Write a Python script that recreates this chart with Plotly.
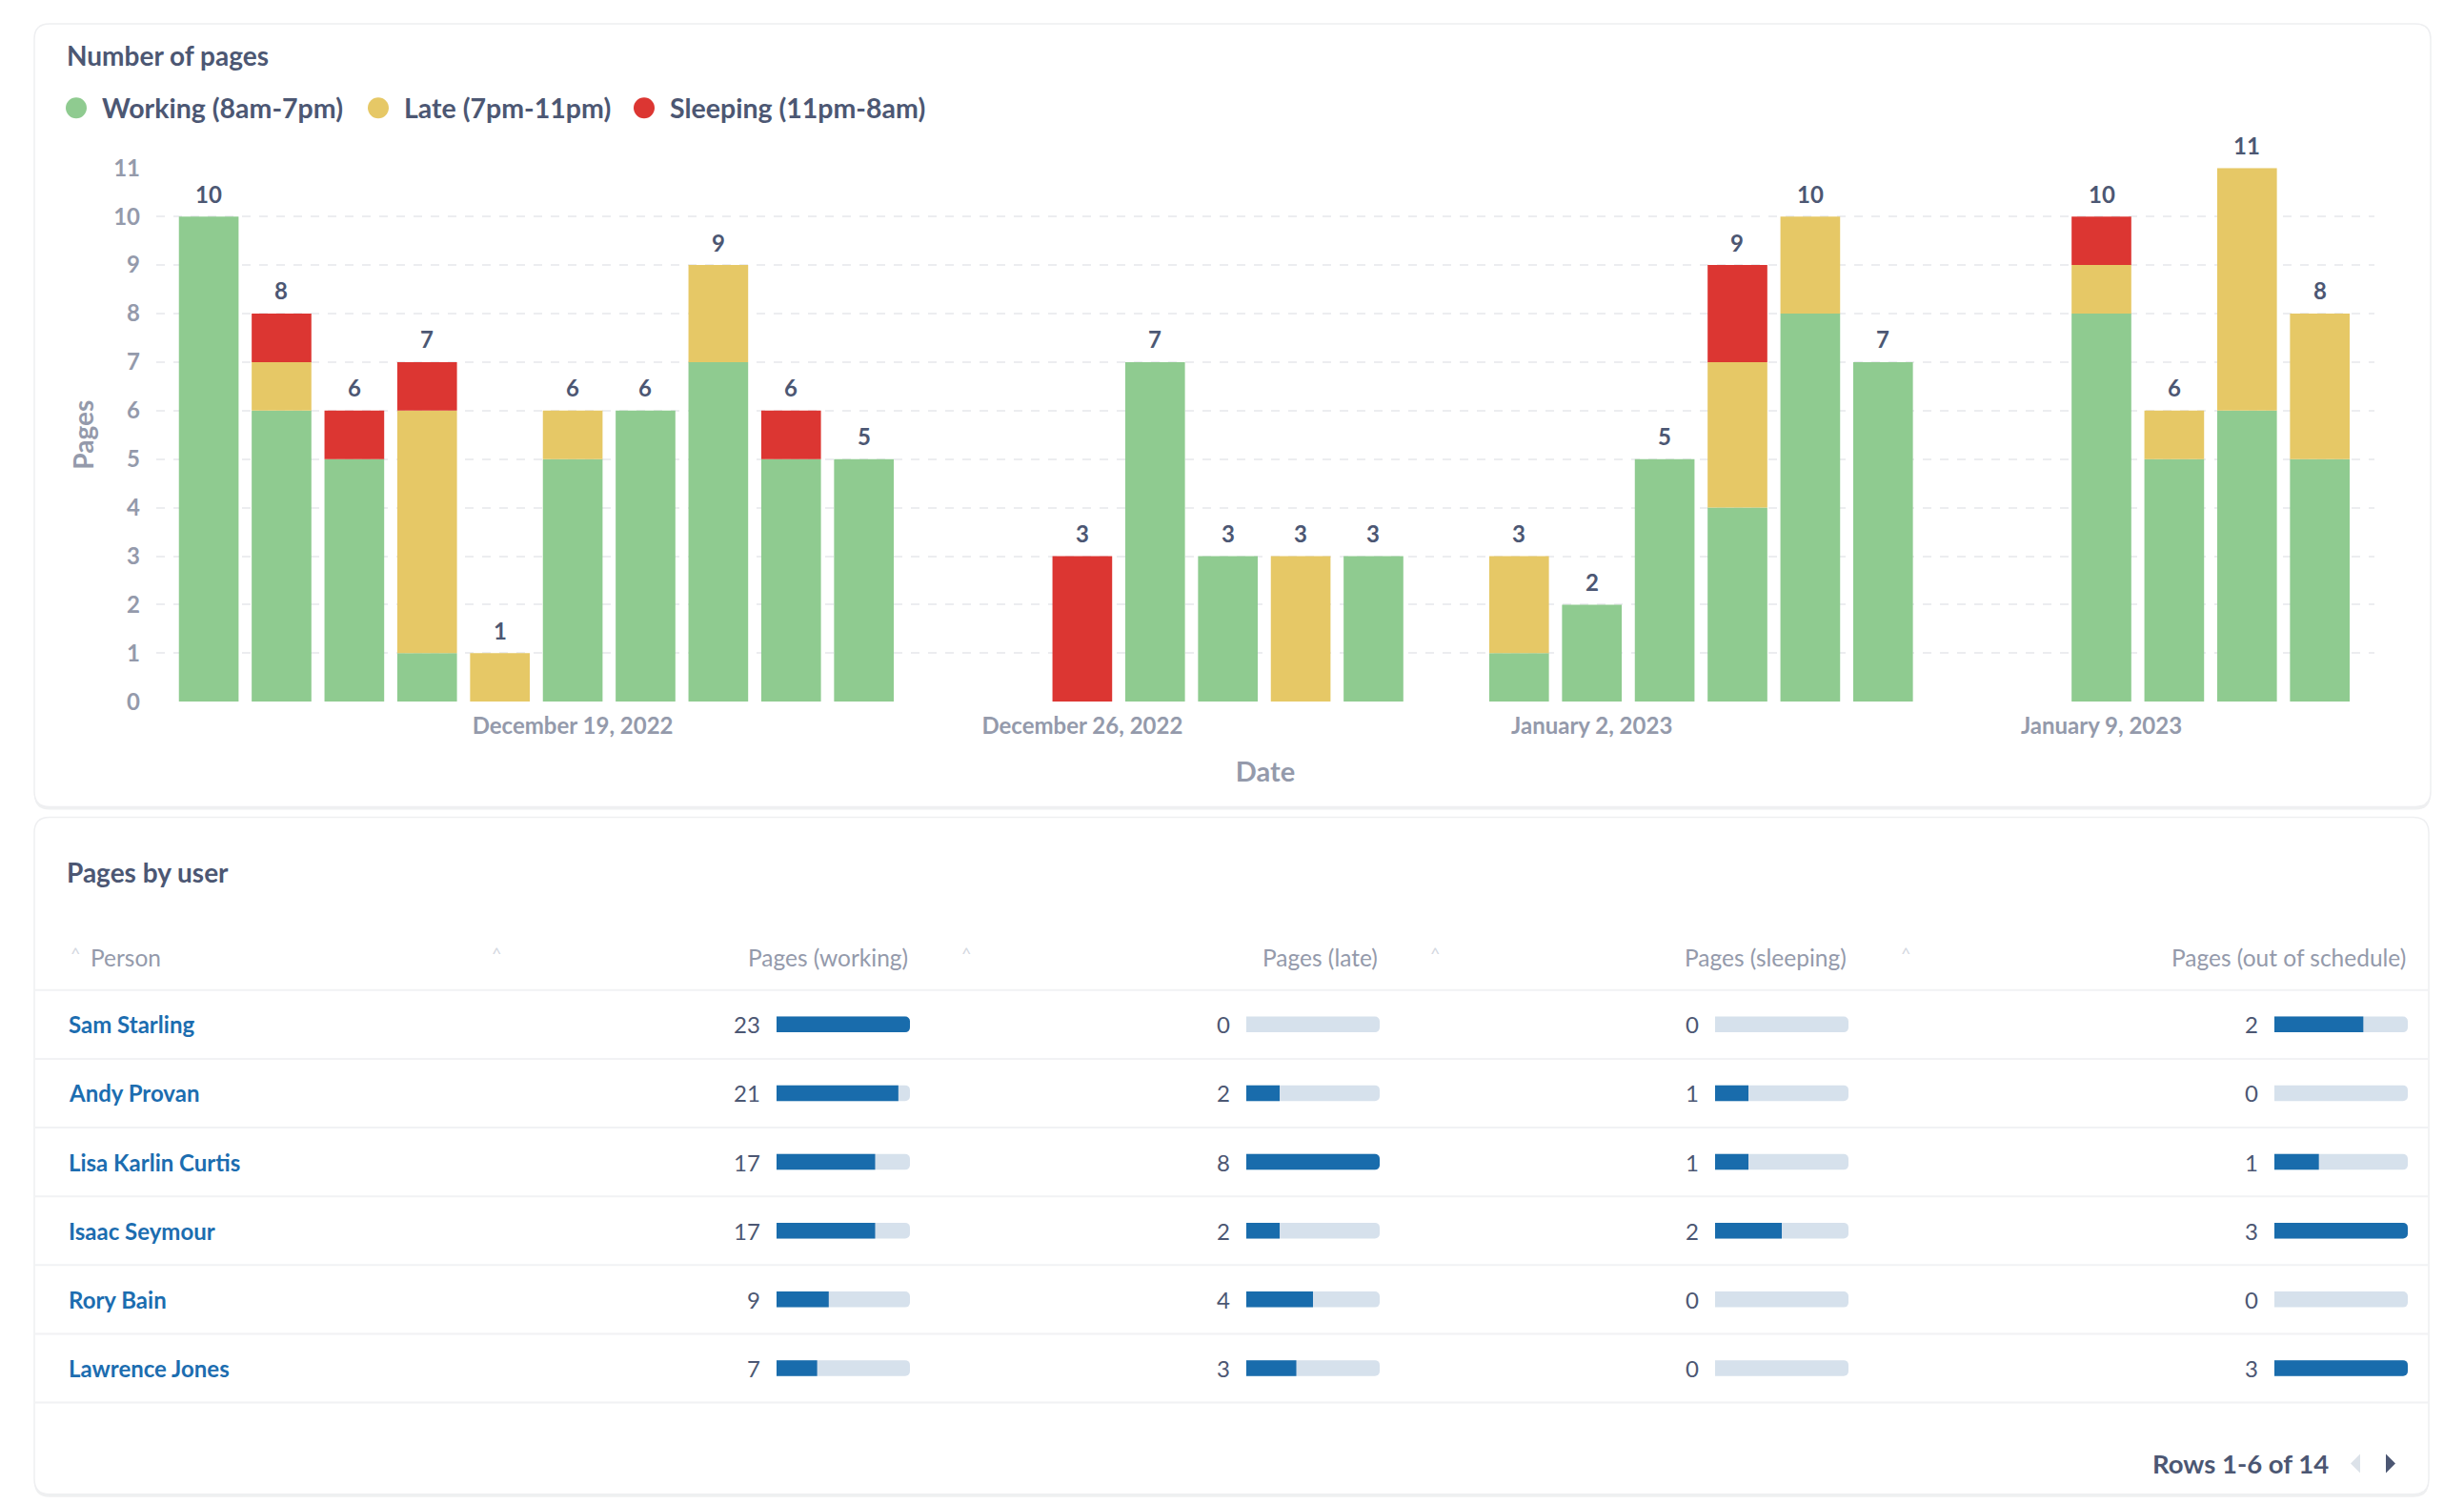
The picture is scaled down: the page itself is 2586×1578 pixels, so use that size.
import pandas as pd
import plotly.graph_objects as go

# pages per day, split by time of day (days without pages are left out)
dates = ["2022-12-14", "2022-12-15", "2022-12-16", "2022-12-17", "2022-12-18",
         "2022-12-19", "2022-12-20", "2022-12-21", "2022-12-22", "2022-12-23",
         "2022-12-26", "2022-12-27", "2022-12-28", "2022-12-29", "2022-12-30",
         "2023-01-01", "2023-01-02", "2023-01-03", "2023-01-04", "2023-01-05",
         "2023-01-06", "2023-01-09", "2023-01-10", "2023-01-11", "2023-01-12"]
working = [10, 6, 5, 1, 0, 5, 6, 7, 5, 5, 0, 7, 3, 0, 3, 1, 2, 5, 4, 8, 7, 8, 5, 6, 5]
late = [0, 1, 0, 5, 1, 1, 0, 2, 0, 0, 0, 0, 0, 3, 0, 2, 0, 0, 3, 2, 0, 1, 1, 5, 3]
sleeping = [0, 1, 1, 1, 0, 0, 0, 0, 1, 0, 3, 0, 0, 0, 0, 0, 0, 0, 2, 0, 0, 1, 0, 0, 0]

series_names = ["Working (8am-7pm)", "Late (7pm-11pm)", "Sleeping (11pm-8am)"]
series_colors = ["#8FCB90", "#E6C866", "#DC3632"]

tick_dates = ["2022-12-19", "2022-12-26", "2023-01-02", "2023-01-09"]
tick_labels = ["December 19, 2022", "December 26, 2022", "January 2, 2023", "January 9, 2023"]

# table: first page of "Pages by user"
people = ["Sam Starling", "Andy Provan", "Lisa Karlin Curtis", "Isaac Seymour",
          "Rory Bain", "Lawrence Jones"]
pages_working = [23, 21, 17, 17, 9, 7]
pages_late = [0, 2, 8, 2, 4, 3]
pages_sleeping = [0, 1, 1, 2, 0, 0]
pages_out = [2, 0, 1, 3, 0, 3]
col_headers = ["Pages (working)", "Pages (late)", "Pages (sleeping)", "Pages (out of schedule)"]
col_max = [23, 8, 4, 3]   # column maximum over all 14 rows (scale of the mini bars)
footer = "Rows 1-6 of 14"

# figure size; page positions below are mapped to figure pixels
W, H = 2570, 1585
LEFT = 8
TOP, VSCALE = 26, 0.98
DARK = "#4C5773"
GREY = "#949AAB"
FONT = "Lato"


def px(x):
    return (x - LEFT) / W


def py(y):
    return 1 - ((y - TOP) / VSCALE) / H


def card(x0, y0, x1, y1, r=16):
    pts = [("M", x0 + r, y0), ("L", x1 - r, y0), ("Q", x1, y0, x1, y0 + r),
           ("L", x1, y1 - r), ("Q", x1, y1, x1 - r, y1), ("L", x0 + r, y1),
           ("Q", x0, y1, x0, y1 - r), ("L", x0, y0 + r), ("Q", x0, y0, x0 + r, y0)]
    out = ""
    for p in pts:
        nums = p[1:]
        coords = []
        for i in range(0, len(nums), 2):
            coords.append("%.6f,%.6f" % (px(nums[i]), py(nums[i + 1])))
        out += p[0] + " " + " ".join(coords) + " "
    return out + "Z"


def label(x, y, text, size, color, anchor="left", weight="normal", yref="paper"):
    return dict(x=x, y=y, xref="paper", yref=yref, text=text, showarrow=False,
                xanchor=anchor, yanchor="middle",
                font=dict(family=FONT, size=size, color=color, weight=weight))


fig = go.Figure()

# stacked bars (explicit bases so the table bars can overlay)
base_late = [w for w in working]
base_sleep = [w + l for w, l in zip(working, late)]
for vals, base, name, color in zip([working, late, sleeping], [None, base_late, base_sleep],
                                   series_names, series_colors):
    fig.add_trace(go.Bar(x=dates, y=vals, base=base, name=name, marker_color=color,
                         marker_line_width=0, showlegend=False, hoverinfo="x+y+name"))

totals = [w + l + s for w, l, s in zip(working, late, sleeping)]
annotations = []
for d, t in zip(dates, totals):
    annotations.append(dict(x=d, y=t, xref="x", yref="y", text=str(t), showarrow=False,
                            yshift=24, yanchor="middle",
                            font=dict(family=FONT, size=24, color=DARK, weight="bold")))

x_start = pd.Timestamp(dates[0]) - pd.Timedelta(hours=17.3)
x_end = pd.Timestamp(dates[-1]) + pd.Timedelta(hours=18)

layout_axes = dict(
    xaxis=dict(domain=[px(164), px(2492)], type="date",
               range=[x_start.strftime("%Y-%m-%d %H:%M"), x_end.strftime("%Y-%m-%d %H:%M")],
               tickvals=tick_dates, ticktext=tick_labels, showgrid=False, zeroline=False,
               showline=False, ticks="", ticklabelstandoff=9,
               tickfont=dict(family=FONT, size=24, color=GREY, weight="bold"),
               title=dict(text="Date", standoff=25,
                          font=dict(family=FONT, size=29, color=GREY, weight="bold"))),
    yaxis=dict(domain=[py(737), py(178)], range=[0, 11], dtick=1, zeroline=False,
               gridcolor="#ECEDF0", gridwidth=2, griddash="dash", ticks="",
               ticklabelstandoff=16,
               tickfont=dict(family=FONT, size=24, color=GREY, weight="bold"),
               title=dict(text="Pages", standoff=12,
                          font=dict(family=FONT, size=28, color=GREY, weight="bold"))),
)

# mini bars of the table, one small subplot per numeric column
bar_left = [815, 1308, 1800, 2387]
bar_w = 140
row_top, row_h = 1039, 72
n = len(people)
rows = list(range(n))
columns = [pages_working, pages_late, pages_sleeping, pages_out]
for k, (vals, cmax) in enumerate(zip(columns, col_max)):
    ax = str(k + 2)
    layout_axes["xaxis" + ax] = dict(domain=[px(bar_left[k]), px(bar_left[k] + bar_w)],
                                     range=[0, cmax], visible=False, anchor="y" + ax)
    layout_axes["yaxis" + ax] = dict(domain=[py(row_top + n * row_h), py(row_top)],
                                     range=[n - 0.5, -0.5], visible=False, anchor="x" + ax)
    fig.add_trace(go.Bar(x=[cmax] * n, y=rows, orientation="h", width=0.23,
                         marker=dict(color="#D6E1EC", cornerradius=5, line_width=0),
                         xaxis="x" + ax, yaxis="y" + ax, showlegend=False, hoverinfo="skip"))
    fig.add_trace(go.Bar(x=vals, y=rows, orientation="h", width=0.23,
                         marker=dict(color="#196CAC", cornerradius=5, line_width=0),
                         xaxis="x" + ax, yaxis="y" + ax, showlegend=False, name=col_headers[k]))
    for i, v in enumerate(vals):
        annotations.append(label(px(bar_left[k] - 15), i, str(v), 24, DARK, "right",
                                 yref="y" + ax))
    annotations.append(label(px(bar_left[k] + bar_w), py(1005), col_headers[k], 24.5, GREY,
                             "right"))

for i, p in enumerate(people):
    annotations.append(label(px(70), i, p, 24, "#1C6DB0", weight="bold", yref="y2"))

annotations.append(label(px(93), py(1005), "Person", 24.5, GREY))
for cx in [79, 521, 1014, 1506, 2000]:
    annotations.append(label(px(cx), py(1000), "^", 18, "#D3D8DF", "center"))

# card titles
for t, ty in [("Number of pages", 60), ("Pages by user", 915)]:
    annotations.append(label(px(68), py(ty), t, 28, DARK, weight="bold"))

# legend
shapes = []
legend_dot_x = [80, 397, 676]
for name, color, lx in zip(series_names, series_colors, legend_dot_x):
    shapes.append(dict(type="circle", xref="paper", yref="paper", xsizemode="pixel",
                       ysizemode="pixel", xanchor=px(lx), yanchor=py(115),
                       x0=-11, x1=11, y0=-11, y1=11, fillcolor=color, line_width=0))
    annotations.append(label(px(lx + 25), py(115), name, 28.5, DARK, weight="bold"))

# footer
annotations.append(label(px(2446), py(1535), footer, 27.5, DARK, "right", weight="bold"))
for ax_, sgn, col in [(2472, -1, "#DCE2E9"), (2509, 1, DARK)]:
    shapes.append(dict(type="path", xref="paper", yref="paper", xsizemode="pixel",
                       ysizemode="pixel", xanchor=px(ax_), yanchor=py(1535),
                       path="M %d,10 L %d,0 L %d,-10 Z" % (-5 * sgn, 5 * sgn, -5 * sgn),
                       fillcolor=col, line_width=0))

# cards with a soft shadow
card_boxes = [(36, 27, 2551, 847), (36, 858, 2549, 1567)]
card_shapes = []
for x0, y0, x1, y1 in card_boxes:
    card_shapes.append(dict(type="path", xref="paper", yref="paper", layer="below",
                            path=card(x0, y0 + 3, x1, y1 + 3), fillcolor="#EFF0F1", line_width=0))
    card_shapes.append(dict(type="path", xref="paper", yref="paper", layer="below",
                            path=card(x0, y0, x1, y1), fillcolor="white",
                            line=dict(color="#EEEFF1", width=1.5)))

# row separators
for j in range(n + 1):
    yy = row_top + j * row_h
    card_shapes.append(dict(type="line", xref="paper", yref="paper", layer="below",
                            x0=px(37), x1=px(2549), y0=py(yy), y1=py(yy),
                            line=dict(color="#F1F2F4", width=2)))

fig.update_layout(
    width=W, height=H, autosize=False,
    margin=dict(l=0, r=0, t=0, b=0),
    paper_bgcolor="white", plot_bgcolor="rgba(0,0,0,0)",
    barmode="overlay", bargap=0.18,
    font=dict(family=FONT, color=DARK),
    annotations=annotations, shapes=card_shapes + shapes,
    showlegend=False,
    **layout_axes
)

fig.write_html("out.html")
